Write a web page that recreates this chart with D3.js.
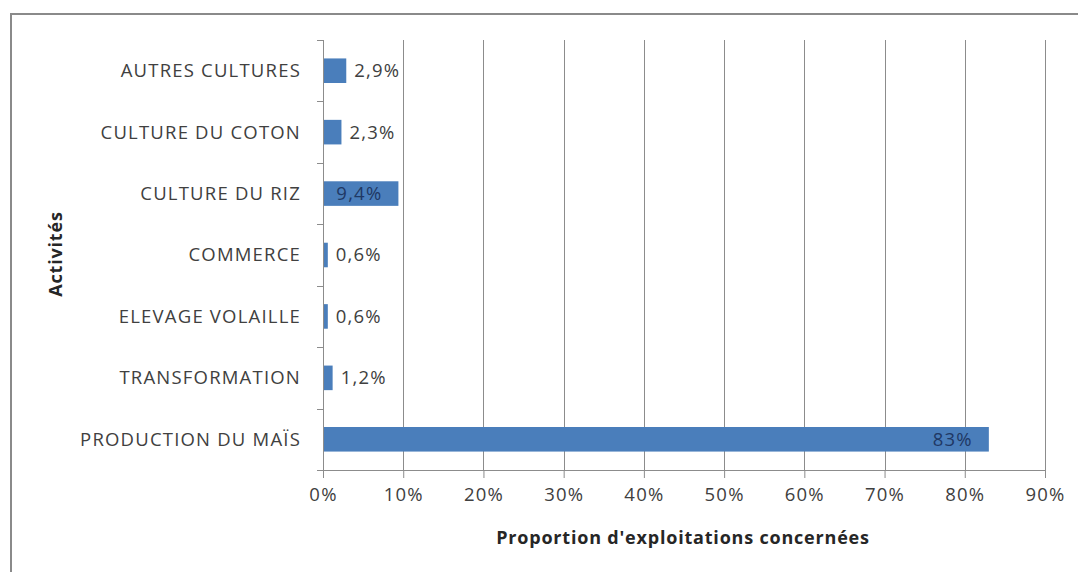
<!DOCTYPE html>
<html>
<head>
<meta charset="utf-8">
<script src="https://cdn.jsdelivr.net/npm/d3@7/dist/d3.min.js"></script>
<style>
  html, body { margin: 0; padding: 0; background: #fff; }
  svg { display: block; }
  text { font-family: "Open Sans", "Liberation Sans", sans-serif; }
</style>
</head>
<body>
<svg id="chart" width="1078" height="572"></svg>
<script>
// Activités des exploitations (proportion, %)
const categories = [
  "AUTRES CULTURES",
  "CULTURE DU COTON",
  "CULTURE DU RIZ",
  "COMMERCE",
  "ELEVAGE VOLAILLE",
  "TRANSFORMATION",
  "PRODUCTION DU MAÏS"
];
const values = [2.9, 2.3, 9.4, 0.6, 0.6, 1.2, 83];
const valueLabels = ["2,9%", "2,3%", "9,4%", "0,6%", "0,6%", "1,2%", "83%"];
const xTicks = [0, 10, 20, 30, 40, 50, 60, 70, 80, 90];
const xTickLabels = ["0%", "10%", "20%", "30%", "40%", "50%", "60%", "70%", "80%", "90%"];

const svg = d3.select("#chart");
const W = 1078, H = 572;
const margin = { left: 323, right: 33, top: 40, bottom: 102 };
const plotW = W - margin.left - margin.right;
const plotH = H - margin.top - margin.bottom;

const textColor = "#404040";
const gridColor = "#8c8c8c";
const barColor = "#4a7ebb";
const fontSize = "18.5px";
const spacing = "1.2px";

// chart frame
svg.append("rect")
  .attr("x", 11).attr("y", 14)
  .attr("width", W + 20).attr("height", H + 20)
  .attr("fill", "#fff")
  .attr("stroke", "#8a8a8a").attr("stroke-width", 2);

const g = svg.append("g").attr("transform", `translate(${margin.left},${margin.top})`);

const x = d3.scaleLinear().domain([0, 90]).range([0, plotW]);
const y = d3.scaleBand().domain(categories).range([0, plotH]).paddingInner(0.6).paddingOuter(0.3);
const yBand = d3.scaleBand().domain(categories).range([0, plotH]);

// vertical gridlines
g.append("g").selectAll("line")
  .data(xTicks.slice(1))
  .join("line")
  .attr("x1", d => Math.round(x(d)) + 0.5).attr("x2", d => Math.round(x(d)) + 0.5)
  .attr("y1", 0).attr("y2", plotH)
  .attr("stroke", gridColor).attr("stroke-width", 1);

// x axis
const xAxis = g.append("g")
  .attr("transform", `translate(0,${plotH})`)
  .call(d3.axisBottom(x).tickValues(xTicks).tickFormat((d, i) => xTickLabels[i]).tickSizeInner(8).tickSizeOuter(0).tickPadding(10));
xAxis.select(".domain").attr("stroke", gridColor);
xAxis.selectAll(".tick line").attr("stroke", gridColor);
xAxis.selectAll(".tick text").attr("fill", textColor)
  .style("font-size", fontSize).style("letter-spacing", spacing);

// y axis: ticks mark band boundaries
const yAxisG = g.append("g");
yAxisG.append("line")
  .attr("x1", 0.5).attr("x2", 0.5).attr("y1", 0).attr("y2", plotH + 8)
  .attr("stroke", gridColor);
const boundaries = categories.map(c => yBand(c)).concat([plotH]);
yAxisG.selectAll("line.tk")
  .data(boundaries)
  .join("line").attr("class", "tk")
  .attr("x1", -6).attr("x2", 0)
  .attr("y1", d => Math.round(d) + 0.5).attr("y2", d => Math.round(d) + 0.5)
  .attr("stroke", gridColor);
yAxisG.selectAll("text.cat")
  .data(categories)
  .join("text").attr("class", "cat")
  .attr("x", -22)
  .attr("y", d => yBand(d) + yBand.bandwidth() / 2)
  .attr("dy", "0.35em")
  .attr("text-anchor", "end")
  .attr("fill", textColor)
  .style("font-size", fontSize).style("letter-spacing", spacing)
  .text(d => d);

// bars
g.selectAll("rect.bar")
  .data(categories)
  .join("rect").attr("class", "bar")
  .attr("x", x(0) + 1)
  .attr("y", d => y(d))
  .attr("width", (d, i) => Math.max(0, x(values[i]) - x(0) - 1))
  .attr("height", y.bandwidth())
  .attr("fill", barColor);

// value labels: outside end for short bars, inside end for longer ones
g.selectAll("text.val")
  .data(categories)
  .join("text").attr("class", "val")
  .attr("y", d => y(d) + y.bandwidth() / 2)
  .attr("dy", "0.35em")
  .style("font-size", fontSize).style("letter-spacing", spacing)
  .text((d, i) => valueLabels[i])
  .each(function (d, i) {
    const t = d3.select(this);
    const w = this.getComputedTextLength();
    const end = x(values[i]);
    if (values[i] > 5) {
      const xr = Math.max(x(0) + w + 12, end - 16);
      t.attr("x", xr).attr("text-anchor", "end").attr("fill", "#1f3864");
    } else {
      t.attr("x", end + 8).attr("text-anchor", "start").attr("fill", textColor);
    }
  });

// axis titles
svg.append("text")
  .attr("x", margin.left + plotW * 0.5 - 1)
  .attr("y", 544)
  .attr("text-anchor", "middle")
  .attr("fill", "#262626")
  .style("font-size", "18px").style("font-weight", "bold").style("letter-spacing", "0.8px")
  .text("Proportion d'exploitations concernées");

svg.append("text")
  .attr("transform", `translate(62,${margin.top + plotH / 2 - 1}) rotate(-90)`)
  .attr("text-anchor", "middle")
  .attr("fill", "#262626")
  .style("font-size", "18px").style("font-weight", "bold").style("letter-spacing", "0.8px")
  .text("Activités");
</script>
</body>
</html>
